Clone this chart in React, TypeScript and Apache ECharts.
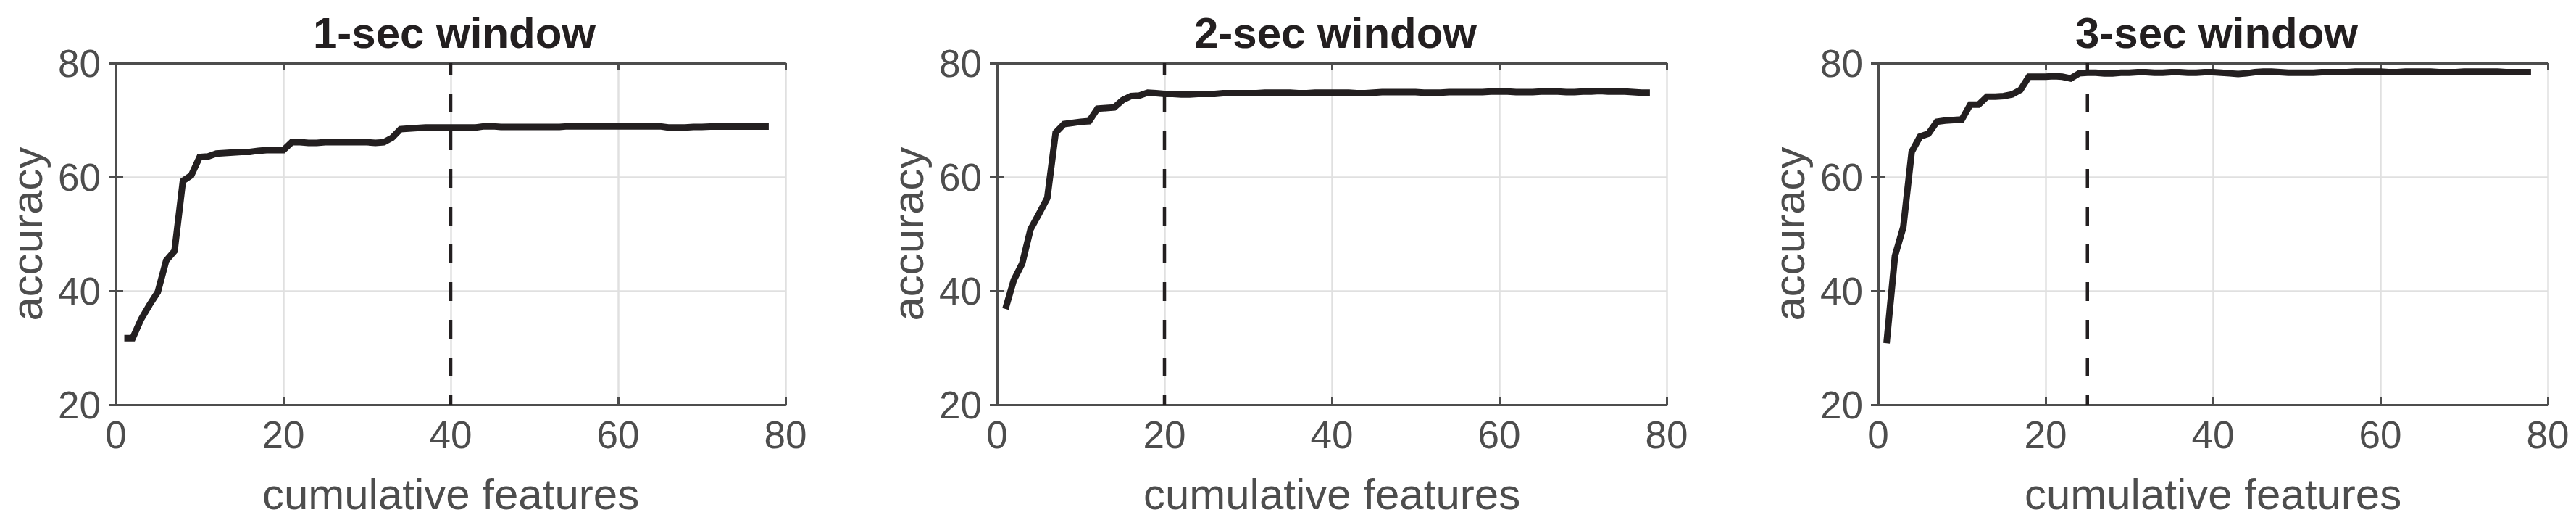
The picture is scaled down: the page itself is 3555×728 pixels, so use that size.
import React, { useEffect, useRef } from "react";
import * as echarts from "echarts";

// ---------- data ----------
const titles = ["1-sec window", "2-sec window", "3-sec window"];
const xTicks = [0, 20, 40, 60, 80];
const yTicks = [20, 40, 60, 80];
const xLabel = "cumulative features";
const yLabel = "accuracy";
// selected number of features (dashed marker)
const selected = [40, 20, 25];

// accuracy for 1..78 cumulative features
const acc1 = [
  31.7, 31.7, 35.0, 37.5, 39.8, 45.3, 47.0, 59.3, 60.3, 63.5,
  63.6, 64.1, 64.2, 64.3, 64.4, 64.4, 64.6, 64.7, 64.7, 64.7,
  66.1, 66.1, 66.0, 66.0, 66.1, 66.1, 66.1, 66.1, 66.1, 66.1,
  66.0, 66.1, 66.9, 68.4, 68.5, 68.6, 68.7, 68.7, 68.7, 68.7,
  68.7, 68.7, 68.7, 68.9, 68.9, 68.8, 68.8, 68.8, 68.8, 68.8,
  68.8, 68.8, 68.8, 68.9, 68.9, 68.9, 68.9, 68.9, 68.9, 68.9,
  68.9, 68.9, 68.9, 68.9, 68.9, 68.7, 68.7, 68.7, 68.8, 68.8,
  68.85, 68.85, 68.85, 68.85, 68.85, 68.85, 68.85, 68.85,
];
const acc2 = [
  36.8, 41.9, 44.8, 50.8, 53.5, 56.3, 67.8, 69.3, 69.5, 69.7,
  69.8, 72.0, 72.1, 72.2, 73.5, 74.2, 74.3, 74.8, 74.7, 74.6,
  74.6, 74.5, 74.5, 74.6, 74.6, 74.6, 74.7, 74.7, 74.7, 74.7,
  74.7, 74.8, 74.8, 74.8, 74.8, 74.7, 74.7, 74.8, 74.8, 74.8,
  74.8, 74.8, 74.7, 74.7, 74.8, 74.9, 74.9, 74.9, 74.9, 74.9,
  74.8, 74.8, 74.8, 74.9, 74.9, 74.9, 74.9, 74.9, 75.0, 75.0,
  75.0, 74.9, 74.9, 74.9, 75.0, 75.0, 75.0, 74.9, 74.9, 75.0,
  75.0, 75.1, 75.0, 75.0, 75.0, 74.9, 74.8, 74.8,
];
const acc3 = [
  30.8, 46.1, 51.2, 64.4, 67.1, 67.6, 69.7, 69.9, 70.0, 70.1,
  72.7, 72.7, 74.1, 74.1, 74.2, 74.5, 75.3, 77.6, 77.6, 77.6,
  77.7, 77.6, 77.3, 78.2,
  78.3, 78.3, 78.2, 78.2, 78.3, 78.3, 78.4, 78.4, 78.3, 78.3,
  78.4, 78.4, 78.3, 78.3, 78.4, 78.4,
  78.3, 78.2, 78.1, 78.2,
  78.4, 78.5, 78.5, 78.4, 78.3, 78.3, 78.3, 78.3,
  78.4, 78.4, 78.4, 78.4, 78.5, 78.5, 78.5, 78.5,
  78.4, 78.4, 78.5, 78.5, 78.5, 78.5, 78.4, 78.4, 78.4, 78.5,
  78.5, 78.5, 78.5, 78.5, 78.4, 78.4, 78.4, 78.4,
];
const accuracies = [acc1, acc2, acc3];

// ---------- layout / style ----------
const W = 3555;
const H = 728;
const gridLefts = [160, 1376, 2592];
const gridTop = 87;
const gridW = 924;
const gridH = 471;
const FONT = "Liberation Sans, Helvetica, Arial, sans-serif";
const AX = "#4d4d4d";
const INK = "#231f20";
const GRIDC = "#e0e0e0";

export default function App() {
  const ref = useRef<HTMLDivElement>(null);

  useEffect(() => {
    if (!ref.current) return;
    const chart = echarts.init(ref.current, null, { renderer: "svg" });

    const grids: any[] = [];
    const xAxes: any[] = [];
    const yAxes: any[] = [];
    const series: any[] = [];
    const titleArr: any[] = [];

    const axisLine = { show: true, lineStyle: { color: AX, width: 3 } };
    const tick = { show: true, inside: true, length: 10, lineStyle: { color: AX, width: 3 } };

    for (let i = 0; i < 3; i++) {
      grids.push({ left: gridLefts[i], top: gridTop, width: gridW, height: gridH, containLabel: false });
      titleArr.push({
        text: titles[i],
        left: gridLefts[i] + gridW / 2,
        top: 10,
        textAlign: "center",
        textStyle: { fontFamily: FONT, fontSize: 60, fontWeight: "bold", color: INK },
      });
      // bottom x axis
      xAxes.push({
        type: "value", gridIndex: i, position: "bottom",
        min: xTicks[0], max: xTicks[xTicks.length - 1], interval: xTicks[1] - xTicks[0],
        axisLine, axisTick: tick,
        axisLabel: { show: true, margin: 15, color: AX, fontFamily: FONT, fontSize: 53 },
        splitLine: { show: true, lineStyle: { color: GRIDC, width: 2.5 } },
        name: xLabel, nameLocation: "middle", nameGap: 93,
        nameTextStyle: { color: AX, fontFamily: FONT, fontSize: 60 },
      });
      // top x axis (box + ticks)
      xAxes.push({
        type: "value", gridIndex: i, position: "top",
        min: xTicks[0], max: xTicks[xTicks.length - 1], interval: xTicks[1] - xTicks[0],
        axisLine, axisTick: tick, axisLabel: { show: false }, splitLine: { show: false },
      });
      // left y axis
      yAxes.push({
        type: "value", gridIndex: i, position: "left",
        min: yTicks[0], max: yTicks[yTicks.length - 1], interval: yTicks[1] - yTicks[0],
        axisLine, axisTick: tick,
        axisLabel: { show: true, margin: 21, color: AX, fontFamily: FONT, fontSize: 53 },
        splitLine: { show: true, lineStyle: { color: GRIDC, width: 2.5 } },
        name: yLabel, nameLocation: "middle", nameGap: 93, nameRotate: 90,
        nameTextStyle: { color: AX, fontFamily: FONT, fontSize: 60 },
      });
      // right y axis
      yAxes.push({
        type: "value", gridIndex: i, position: "right",
        min: yTicks[0], max: yTicks[yTicks.length - 1], interval: yTicks[1] - yTicks[0],
        axisLine, axisTick: tick, axisLabel: { show: false }, splitLine: { show: false },
      });

      // dashed marker for selected feature count
      series.push({
        type: "line", xAxisIndex: i * 2, yAxisIndex: i * 2,
        data: [[selected[i], yTicks[0]], [selected[i], yTicks[yTicks.length - 1]]],
        symbol: "none", silent: true, z: 3,
        lineStyle: { color: INK, width: 4.5, type: [26, 26], dashOffset: 13 },
      });
      // accuracy curve
      series.push({
        type: "line", xAxisIndex: i * 2, yAxisIndex: i * 2,
        data: accuracies[i].map((v, k) => [k + 1, v]),
        symbol: "none", showSymbol: false, z: 4,
        lineStyle: { color: INK, width: 9, cap: "butt", join: "miter" },
      });
    }

    chart.setOption({
      animation: false,
      backgroundColor: "#ffffff",
      title: titleArr,
      grid: grids,
      xAxis: xAxes,
      yAxis: yAxes,
      series,
    });

    return () => chart.dispose();
  }, []);

  return (
    <div
      ref={ref}
      style={{ position: "absolute", left: 0, top: 0, width: W, height: H }}
    />
  );
}
